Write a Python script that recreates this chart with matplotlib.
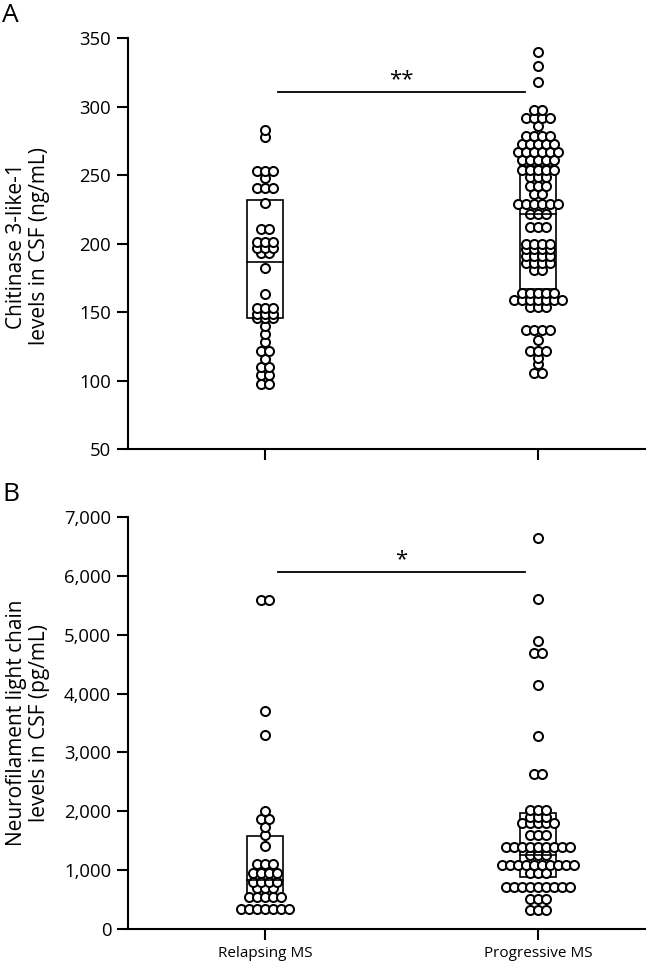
import numpy as np
import matplotlib
matplotlib.use('Agg')
import matplotlib.pyplot as plt
from matplotlib.patches import Rectangle
from matplotlib.ticker import FuncFormatter

plt.rcParams['font.family'] = ['Open Sans', 'DejaVu Sans']

# ---------------- data ----------------
groups = ['Relapsing MS', 'Progressive MS']

chi3l1_relapsing = [283, 278, 253, 253, 253, 248, 241, 241, 241, 230, 211, 211,
                    201, 201, 201, 197, 197, 197, 193, 193, 182, 163,
                    153, 153, 153, 149, 149, 149, 146, 146, 146, 140, 134, 128,
                    122, 122, 116, 110, 110, 104, 104, 98, 98]
chi3l1_progressive = ([340, 330, 318] + [298] * 2 + [292] * 4 + [286] + [279] * 4 +
                      [273] * 5 + [267] * 6 + [261] * 5 + [254] * 5 + [249] * 3 +
                      [242] * 3 + [236] * 2 + [229] * 6 + [222] * 3 + [212] * 3 +
                      [200] * 4 + [196] * 4 + [191] * 4 + [186] * 4 + [181] * 2 +
                      [164] * 5 + [159] * 7 + [154] * 3 + [137] * 4 + [130] +
                      [122] * 3 + [117] + [112] + [106] * 2)
chi3l1_box_low = [146, 167]
chi3l1_box_mid = [187, 222]
chi3l1_box_high = [232, 257]
chi3l1_ticks = [50, 100, 150, 200, 250, 300, 350]

nfl_relapsing = ([5590] * 2 + [3709, 3296, 2010] + [1863] * 2 + [1738, 1597, 1410] +
                 [1104] * 3 + [946] * 4 + [804] * 4 + [691] * 3 + [544] * 5 + [335] * 7)
nfl_progressive = ([6637, 5606, 4898] + [4684] * 2 + [4145, 3279] + [2633] * 2 +
                   [2022] * 3 + [1900] * 3 + [1796] * 5 + [1597] * 3 + [1398] * 9 +
                   [1257] * 3 + [1087] * 10 + [946] * 3 + [719] * 9 + [505] * 3 + [323] * 3)
nfl_box_low = [527, 890]
nfl_box_mid = [830, 1250]
nfl_box_high = [1580, 1970]
nfl_ticks = [0, 1000, 2000, 3000, 4000, 5000, 6000, 7000]

chi3l1_sig = ('**', 311)
nfl_sig = ('*', 6070)

# ---------------- styling ----------------
W, H = 668, 968
fig = plt.figure(figsize=(W / 100, H / 100), dpi=100)

left_px, right_px = 128, 645
px_per_unit = 273.0
x0 = -(265 - left_px) / px_per_unit
x1 = x0 + (right_px - left_px) / px_per_unit
dx = 8.0 / px_per_unit
box_w = 36.0 / px_per_unit


def fig_rect(top_px, bottom_px):
    return [left_px / W, 1 - bottom_px / H, (right_px - left_px) / W, (bottom_px - top_px) / H]


def draw_panel(ax, series, lows, mids, highs, ticks, ylim, sig, fmt=None):
    for i, vals in enumerate(series):
        # box + median
        ax.add_patch(Rectangle((i - box_w / 2, lows[i]), box_w, highs[i] - lows[i],
                               fill=False, edgecolor='black', linewidth=1.2, zorder=1))
        ax.plot([i - box_w / 2, i + box_w / 2], [mids[i], mids[i]], color='black',
                linewidth=1.2, zorder=3)
        # dot-plot layout: equal values placed side by side
        uniq, counts = np.unique(np.asarray(vals), return_counts=True)
        xs, ys = [], []
        for v, n in zip(uniq, counts):
            offs = (np.arange(n) - (n - 1) / 2) * dx
            xs.extend(i + offs)
            ys.extend([v] * n)
        ax.plot(xs, ys, linestyle='none', marker='o', markersize=6.5,
                markerfacecolor='white', markeredgecolor='black',
                markeredgewidth=1.45, zorder=2)
    ax.set_xlim(x0, x1)
    ax.set_ylim(*ylim)
    ax.set_yticks(ticks)
    if fmt is not None:
        ax.yaxis.set_major_formatter(FuncFormatter(fmt))
    ax.set_xticks([0, 1])
    for s in ['top', 'right']:
        ax.spines[s].set_visible(False)
    for s in ['left', 'bottom']:
        ax.spines[s].set_linewidth(1.5)
    ax.tick_params(axis='both', direction='out', length=8, width=1.5, labelsize=13.3, pad=4)
    # significance bar
    label, yv = sig
    ax.plot([0.048, 0.952], [yv, yv], color='black', linewidth=1.3)
    rng = ylim[1] - ylim[0]
    ax.text(0.5, yv + rng * 0.004, label, ha='center', va='bottom', fontsize=16)


axA = fig.add_axes(fig_rect(38.3, 449.3))
draw_panel(axA, [chi3l1_relapsing, chi3l1_progressive], chi3l1_box_low, chi3l1_box_mid,
           chi3l1_box_high, chi3l1_ticks, (50, 350), chi3l1_sig)
axA.set_xticklabels([])

axB = fig.add_axes(fig_rect(517, 929))
draw_panel(axB, [nfl_relapsing, nfl_progressive], nfl_box_low, nfl_box_mid,
           nfl_box_high, nfl_ticks, (0, 7000), nfl_sig,
           fmt=lambda v, p: f'{int(v):,}')
axB.set_xticklabels(groups, fontsize=11)

fig.text(28 / W, 1 - 246 / H, 'Chitinase 3-like-1\nlevels in CSF (ng/mL)', rotation=90,
         ha='center', va='center', fontsize=15, multialignment='center', linespacing=1.08)
fig.text(28 / W, 1 - 723 / H, 'Neurofilament light chain\nlevels in CSF (pg/mL)', rotation=90,
         ha='center', va='center', fontsize=15, multialignment='center', linespacing=1.08)

fig.text(2 / W, 1 - 3 / H, 'A', ha='left', va='top', fontsize=19)
fig.text(2 / W, 1 - 482 / H, 'B', ha='left', va='top', fontsize=19)

fig.savefig('out.png', dpi=100)
